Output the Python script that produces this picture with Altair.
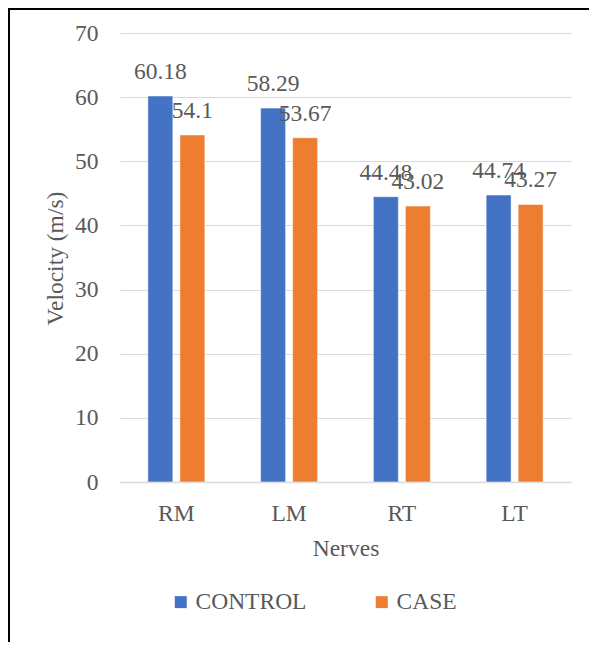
import altair as alt
import pandas as pd

nerves = ["RM", "LM", "RT", "LT"]
groups = ["CONTROL", "CASE"]
control = [60.18, 58.29, 44.48, 44.74]
case = [54.1, 53.67, 43.02, 43.27]
labels_control = ["60.18", "58.29", "44.48", "44.74"]
labels_case = ["54.1", "53.67", "43.02", "43.27"]
y_ticks = [0, 10, 20, 30, 40, 50, 60, 70]

rows = []
for i, n in enumerate(nerves):
    rows.append({"Nerve": n, "Group": "CONTROL", "Value": control[i], "Label": labels_control[i]})
    rows.append({"Nerve": n, "Group": "CASE", "Value": case[i], "Label": labels_case[i]})
df = pd.DataFrame(rows)

FONT = "'Liberation Serif', 'Times New Roman', Times, serif"
TXT = "#595959"
FS = 23.5

x_enc = alt.X("Nerve:N", sort=nerves,
              scale=alt.Scale(paddingInner=0.4945, paddingOuter=0.2472),
              axis=alt.Axis(title="Nerves", labelAngle=0, ticks=False, labelPadding=19,
                            domainColor="#d9d9d9", domainWidth=1.5,
                            titleY=73, titleBaseline="alphabetic"))
xo_enc = alt.XOffset("Group:N", sort=groups,
                     scale=alt.Scale(paddingInner=0.22, paddingOuter=0))
y_enc = alt.Y("Value:Q", scale=alt.Scale(domain=[0, 70], nice=False),
              axis=alt.Axis(title="Velocity (m/s)", values=y_ticks, ticks=False, domain=False,
                            labelPadding=22, gridColor="#d9d9d9", gridWidth=1.2,
                            titleX=-58, titleY=225, titleAngle=-90,
                            titleBaseline="alphabetic", titleAlign="center"))

bars = alt.Chart(df).mark_bar(stroke="white", strokeWidth=1, strokeOpacity=0.5).encode(
    x=x_enc,
    xOffset=xo_enc,
    y=y_enc,
    color=alt.Color("Group:N", sort=groups,
                    scale=alt.Scale(domain=groups, range=["#4472C4", "#ED7D31"]),
                    legend=alt.Legend(title=None, orient="none", legendX=49, legendY=557,
                                      direction="horizontal", columns=2, columnPadding=63,
                                      symbolType="square", symbolSize=144, symbolStrokeWidth=0,
                                      labelFontSize=FS, labelFont=FONT, labelColor=TXT,
                                      labelOffset=3, padding=0)),
)

text = alt.Chart(df).mark_text(baseline="alphabetic", dy=-17, fontSize=FS, font=FONT,
                               color=TXT).encode(
    x=alt.X("Nerve:N", sort=nerves),
    xOffset=alt.XOffset("Group:N", sort=groups),
    y=alt.Y("Value:Q"),
    text="Label:N",
)

border = alt.Chart(alt.Data(values=[{"a": 1}])).mark_rect(
    filled=False, stroke="black", strokeWidth=2
).encode(
    x=alt.value(-111), x2=alt.value(520),
    y=alt.value(-24), y2=alt.value(700),
)

chart = alt.layer(bars, text, border).properties(
    width=451, height=449,
    autosize=alt.AutoSizeParams(type="none"),
    padding={"left": 112, "top": 25, "right": 18, "bottom": 160},
).configure_view(stroke=None).configure_axis(
    labelFont=FONT, labelFontSize=FS, labelColor=TXT,
    titleFont=FONT, titleFontSize=FS, titleColor=TXT, titleFontWeight="normal",
).configure_axisX(grid=False)

chart.save("out.html", embed_options={"renderer": "svg", "actions": False})
